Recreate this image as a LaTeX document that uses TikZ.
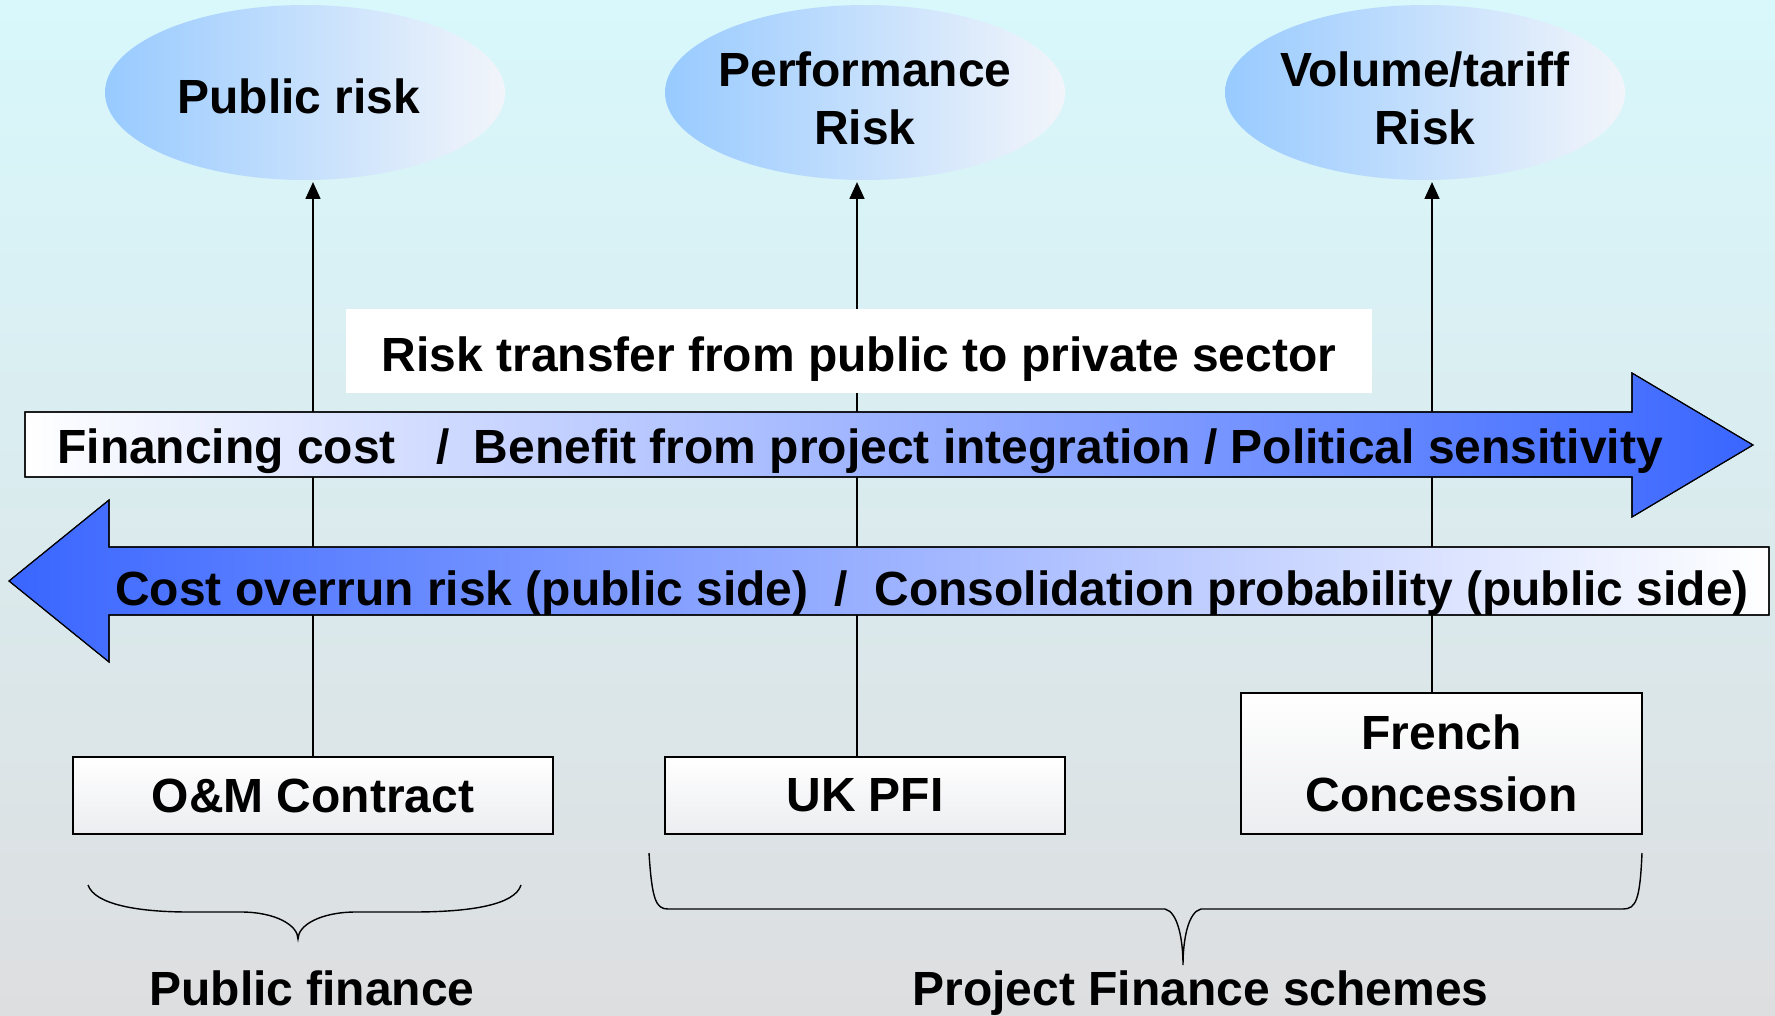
\documentclass[tikz,border=0pt]{standalone}
\usepackage{fontspec}
\setmainfont{Liberation Sans}
\usepackage{tikz}
\usetikzlibrary{
  arrows.meta,
  shapes.geometric
}
\definecolor{skycyan}{RGB}{216,248,252}
\definecolor{paleblue}{RGB}{224,238,246}
\definecolor{mistgray}{RGB}{221,222,224}
\definecolor{ellblue}{RGB}{152,202,255}
\definecolor{ellwhite}{RGB}{242,245,250}
\definecolor{arrowblue}{RGB}{58,102,255}
\definecolor{midblue}{RGB}{155,180,255}
\definecolor{boxgray}{RGB}{236,237,240}

\begin{document}
\begin{tikzpicture}[
    bigtext/.style={font=\bfseries\fontsize{27.3}{33}\selectfont},
    riskell/.style={ellipse, minimum width=8cm, minimum height=3.5cm, inner sep=0pt,
                    left color=ellblue, right color=ellwhite},
    schemebox/.style={rectangle, draw=black, line width=0.9pt, bigtext, align=center,
                      minimum height=1.54cm, inner sep=0pt,
                      top color=white, bottom color=boxgray},
    riskline/.style={-{Triangle[length=9.5pt,width=8.5pt]}, line width=0.7pt, shorten >=1pt},
    bandarrow/.style={draw=black, line width=0.6pt},
    bracket/.style={line width=0.8pt}
  ]
        % background
        \useasboundingbox (0,0) rectangle (35.5,-20.32);
        \shade[top color=skycyan, middle color=paleblue, bottom color=mistgray] (0,0) rectangle (35.5,-20.32);

        % risks
        \node[riskell, label={[bigtext, align=center, xshift=-0.12cm, yshift=-2pt]center:Public risk}]  (pubrisk)  at ( 6.1,-1.85) {};
        \node[riskell, label={[bigtext, align=center, yshift=-3.5pt]center:{Performance\\Risk}}] (perfrisk) at (17.3,-1.85) {};
        \node[riskell, label={[bigtext, align=center, yshift=-3.5pt]center:{Volume/tariff\\Risk}}] (volrisk)  at (28.5,-1.85) {};

        % schemes
        \node[schemebox, minimum width=9.6cm] (om)    at ( 6.26,-15.91) {O\&M Contract};
        \node[schemebox, minimum width=8cm]   (ukpfi) at (17.3, -15.91) {UK PFI};
        \node[schemebox, minimum width=8.02cm, minimum height=2.82cm] (frconc) at (28.83,-15.27) {French\\[2pt]Concession};

        \draw[riskline] (om.north) -- (om.north |- pubrisk.south);
        \draw[riskline] ([xshift=-0.16cm]ukpfi.north) -- ([xshift=-0.16cm]ukpfi.north |- perfrisk.south);
        \draw[riskline] ([xshift=-0.19cm]frconc.north) -- ([xshift=-0.19cm]frconc.north |- volrisk.south);

        \node[fill=white, bigtext, minimum width=20.52cm, minimum height=1.68cm, inner sep=0pt,
              text height=29pt, text depth=6pt] (transfer)
            at (17.18,-7.02) {Risk transfer from public to private sector};

        % the two band arrows
        \shade[bandarrow, left color=white, middle color=midblue, right color=arrowblue]
            (0.5,-8.24) -- (32.64,-8.24) -- (32.64,-7.46) -- (35.06,-8.9)
            -- (32.64,-10.34) -- (32.64,-9.54) -- (0.5,-9.54) -- cycle;
        \draw[bandarrow] (0.5,-8.24) -- (32.64,-8.24) -- (32.64,-7.46) -- (35.06,-8.9)
            -- (32.64,-10.34) -- (32.64,-9.54) -- (0.5,-9.54) -- cycle;
        \shade[bandarrow, left color=arrowblue, middle color=midblue, right color=white]
            (35.38,-10.94) -- (2.18,-10.94) -- (2.18,-10.0) -- (0.18,-11.62)
            -- (2.18,-13.24) -- (2.18,-12.3) -- (35.38,-12.3) -- cycle;
        \draw[bandarrow] (35.38,-10.94) -- (2.18,-10.94) -- (2.18,-10.0) -- (0.18,-11.62)
            -- (2.18,-13.24) -- (2.18,-12.3) -- (35.38,-12.3) -- cycle;

        \node[bigtext, anchor=base west, inner sep=0pt] (costtext) at (1.14,-9.26)
            {Financing cost\hspace{0.85em}/\hspace{0.5em}Benefit from project integration / Political sensitivity};
        \node[bigtext, anchor=base west, inner sep=0pt] (overruntext) at (2.3,-12.1)
            {Cost overrun risk (public side)\hspace{0.55em}/\hspace{0.55em}Consolidation probability (public side)};

        % braces
        \draw[bracket] (1.76,-17.7) .. controls (1.9,-18.1) and (2.8,-18.24) .. (3.78,-18.24)
            -- (4.82,-18.24) .. controls (5.5,-18.24) and (5.96,-18.5) .. (5.96,-18.78)
            .. controls (5.96,-18.5) and (6.42,-18.24) .. (7.12,-18.24)
            -- (8.26,-18.24) .. controls (9.4,-18.24) and (10.3,-18.1) .. (10.42,-17.7);
        \draw[bracket] (12.98,-17.06) .. controls (13.04,-18.0) and (13.12,-18.18) .. (13.36,-18.18)
            -- (23.3,-18.18) .. controls (23.56,-18.24) and (23.66,-18.8) .. (23.66,-19.3)
            .. controls (23.66,-18.8) and (23.76,-18.24) .. (24.02,-18.18)
            -- (32.46,-18.18) .. controls (32.72,-18.18) and (32.8,-18.0) .. (32.84,-17.06);

        \node[bigtext, anchor=base] (pubfin)  at ( 6.24,-20.1) {Public finance};
        \node[bigtext, anchor=base] (projfin) at (24.01,-20.1) {Project Finance schemes};
\end{tikzpicture}
\end{document}
